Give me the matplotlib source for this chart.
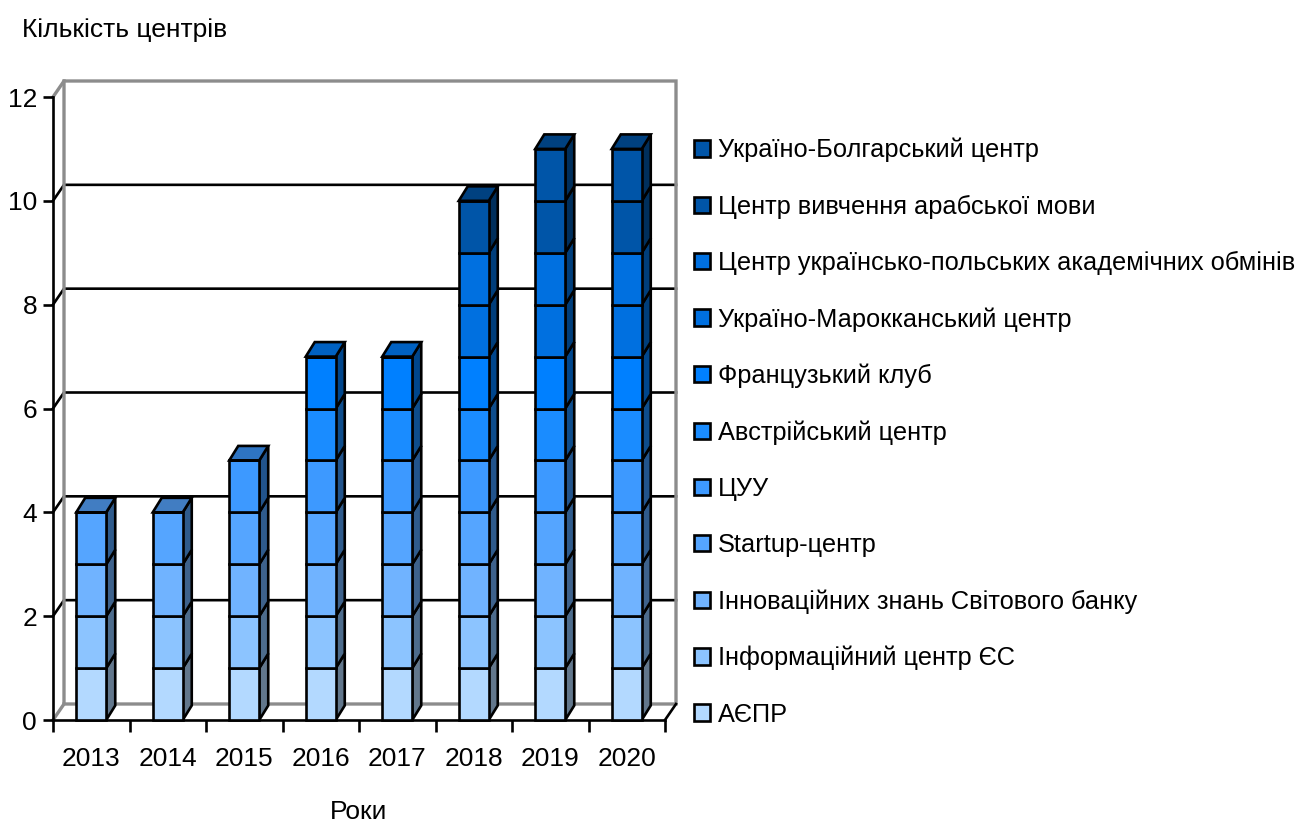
import matplotlib
matplotlib.use('Agg')
import matplotlib.pyplot as plt
from matplotlib.colors import to_rgb
from matplotlib.patches import Patch, Polygon
import numpy as np

plt.rcParams['font.family'] = ['Liberation Sans', 'DejaVu Sans']

years = ['2013', '2014', '2015', '2016', '2017', '2018', '2019', '2020']
names = ['АЄПР', 'Інформаційний центр ЄС', 'Інноваційних знань Світового банку',
         'Startup-центр', 'ЦУУ', 'Австрійський центр', 'Французький клуб',
         'Україно-Марокканський центр', 'Центр українсько-польських академічних обмінів',
         'Центр вивчення арабської мови', 'Україно-Болгарський центр']
colors = ['#B3D9FF', '#8CC4FF', '#70B3FF', '#55A5FF', '#3D99FF', '#1A8CFF',
          '#0080FF', '#0070E0', '#0070E0', '#0055A8', '#0055A8']

aespr = [1, 1, 1, 1, 1, 1, 1, 1]
info_eu = [1, 1, 1, 1, 1, 1, 1, 1]
world_bank = [1, 1, 1, 1, 1, 1, 1, 1]
startup = [1, 1, 1, 1, 1, 1, 1, 1]
cuu = [0, 0, 1, 1, 1, 1, 1, 1]
austria = [0, 0, 0, 1, 1, 1, 1, 1]
france = [0, 0, 0, 1, 1, 1, 1, 1]
morocco = [0, 0, 0, 0, 0, 1, 1, 1]
poland = [0, 0, 0, 0, 0, 1, 1, 1]
arabic = [0, 0, 0, 0, 0, 1, 1, 1]
bulgaria = [0, 0, 0, 0, 0, 0, 1, 1]
series = [aespr, info_eu, world_bank, startup, cuu, austria, france,
          morocco, poland, arabic, bulgaria]

W, H = 1297, 825
PX_X = 612 / 8    # pixels per category
PX_Y = 623 / 12   # pixels per unit
FS = 19
GREY = '#8C8C8C'
LW = 1.9


def shade(color, k):
    return tuple(c * k for c in to_rgb(color))


fig = plt.figure(figsize=(W / 100, H / 100), dpi=100)
ax = fig.add_axes([53 / W, (H - 720) / H, 612 / W, 623 / H])
x = np.arange(len(years))
ax.set_xlim(-0.5, 7.5)
ax.set_ylim(0, 12)

# back wall of the fake 3d box
wall_dx, wall_dy = 11 / PX_X, 16 / PX_Y
for v in range(2, 12, 2):
    ax.plot([-0.5, -0.5 + wall_dx, 7.5 + wall_dx], [v, v + wall_dy, v + wall_dy],
            color='black', lw=LW, clip_on=False, zorder=1, solid_joinstyle='miter')
ax.plot([-0.5, -0.5 + wall_dx, -0.5 + wall_dx], [0, wall_dy, 12 + wall_dy], color=GREY, lw=2.4,
        clip_on=False, zorder=1, solid_joinstyle='miter')
ax.plot([-0.5, -0.5 + wall_dx, 7.5 + wall_dx, 7.5 + wall_dx, -0.5 + wall_dx],
        [12, 12 + wall_dy, 12 + wall_dy, wall_dy, wall_dy],
        color=GREY, lw=2.4, clip_on=False, zorder=1, solid_joinstyle='miter')
ax.plot([7.5, 7.5 + wall_dx], [0, wall_dy], color='black', lw=LW, clip_on=False, zorder=1)

# stacked bars, side and top faces are polygons next to the front
w = 30 / PX_X
bar_dx, bar_dy = 9 / PX_X, 14.5 / PX_Y
bottom = np.zeros(len(years))
for vals, color in zip(series, colors):
    vals = np.array(vals)
    ax.bar(x, vals, w, bottom=bottom, color=color, edgecolor='black', linewidth=LW, zorder=3, clip_on=False)
    for xi, b, v in zip(x, bottom, vals):
        if v == 0:
            continue
        r = xi + w / 2
        ax.add_patch(Polygon([(r, b), (r + bar_dx, b + bar_dy), (r + bar_dx, b + v + bar_dy), (r, b + v)],
                             facecolor=shade(color, 0.55), edgecolor='black', lw=LW, zorder=2, clip_on=False))
    bottom = bottom + vals

# top faces take the colour of whichever series is last in the stack
for xi, total in zip(x, bottom):
    top_color = colors[int(total) - 1]
    l, r, t = xi - w / 2, xi + w / 2, total
    ax.add_patch(Polygon([(l, t), (r, t), (r + bar_dx, t + bar_dy), (l + bar_dx, t + bar_dy)],
                         facecolor=shade(top_color, 0.76), edgecolor='black', lw=LW, zorder=2, clip_on=False))

ax.spines['top'].set_visible(False)
ax.spines['right'].set_visible(False)
ax.spines['left'].set_linewidth(LW)
ax.spines['bottom'].set_linewidth(LW)
ax.set_yticks(range(0, 13, 2))
ax.set_xticks(np.arange(-0.5, 8, 1), labels=[])
ax.set_xticks(x, labels=years, minor=True)
ax.tick_params(axis='y', length=7.5, width=LW, labelsize=FS, pad=4)
ax.tick_params(axis='x', which='major', length=8.6, width=LW)
ax.tick_params(axis='x', which='minor', length=0, labelsize=FS, pad=19.5)

handles = [Patch(facecolor=c, edgecolor='black', lw=LW) for c in colors]
fig.legend(handles[::-1], names[::-1], loc='upper left', bbox_to_anchor=(694 / W, (H - 138) / H),
           borderaxespad=0, borderpad=0, frameon=False, fontsize=18.3, handlelength=0.62, handleheight=0.62,
           handletextpad=0.32, labelspacing=1.265)

fig.text(22 / W, (H - 30) / H, 'Кількість центрів', fontsize=FS, ha='left', va='center')
fig.text(359 / W, (H - 812) / H, 'Роки', fontsize=19, ha='center', va='center')

fig.savefig('out.png', dpi=100)
